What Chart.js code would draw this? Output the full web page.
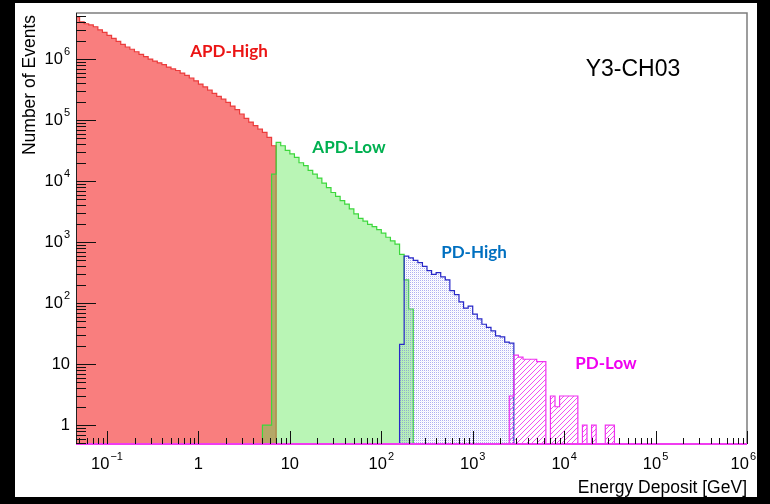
<!DOCTYPE html>
<html>
<head>
<meta charset="utf-8">
<script src="https://cdn.jsdelivr.net/npm/chart.js@4.4.0/dist/chart.umd.min.js"></script>
<style>
  html, body { margin: 0; padding: 0; background: #000; }
  #wrap { width: 770px; height: 504px; }
</style>
</head>
<body>
<div id="wrap"><canvas id="myChart" width="770" height="504"></canvas></div>
<script>
// log binning: 20 bins per decade, first edge at 10^-1.35
const binStartLog = -1.35;
const binsPerDecade = 20;

// APD-High, starts at bin 0
const apdHighStart = 0;
const apdHighCounts = [4.9e6, 4.07e6, 3.8e6, 3.63e6, 3.39e6, 3.02e6, 2.75e6, 2.45e6, 2.19e6, 1.95e6,
                       1.74e6, 1.58e6, 1.45e6, 1.32e6, 1.2e6, 1.1e6, 1.0e6, 9.3e5, 8.7e5, 8.1e5,
                       7.4e5, 6.9e5, 6.5e5, 5.9e5, 5.4e5, 4.9e5, 4.4e5, 3.9e5, 3.5e5, 3.1e5,
                       2.75e5, 2.45e5, 2.2e5, 1.95e5, 1.7e5, 1.48e5, 1.26e5, 1.07e5, 9.3e4, 8.1e4,
                       7.1e4, 6.3e4, 5.2e4, 3.8e4];
// APD-Low
const apdLowStart = 41;
const apdLowCounts = [1, 1, 1.3e4, 4.3e4, 3.8e4, 3.2e4, 2.8e4, 2.45e4, 2.0e4, 1.8e4, 1.5e4, 1.3e4,
                      1.12e4, 9300, 7800, 6500, 5600, 4800, 4200, 3500, 2900, 2450, 2200, 1950,
                      1800, 1600, 1400, 1200, 1050, 930, 630, 240, 80];
// PD-High
const pdHighStart = 71;
const pdHighCounts = [21, 590, 550, 500, 460, 400, 340, 295, 315, 270, 240, 160, 138, 105, 83,
                      89, 66, 55, 45, 40, 35, 29, 28, 23, 22];
// PD-Low
const pdLowStart = 95;
const pdLowCounts = [3, 14, 13, 12, 12, 12, 11, 11, 0, 3, 2, 3, 3, 3, 3, 0, 1, 0, 1, 0, 0, 1, 1];

const xTickDecades = [-1, 0, 1, 2, 3, 4, 5, 6];
const yTickDecades = [0, 1, 2, 3, 4, 5, 6];

const FLOOR = 0.1; // empty bins, below the y range

function binEdge(k) {
    return Math.pow(10, binStartLog + k / binsPerDecade);
}

function histPoints(start, counts) {
    var pts = [{x: binEdge(start), y: FLOOR}];
    for (var i = 0; i < counts.length; i++) {
        pts.push({x: binEdge(start + i), y: counts[i] > 0 ? counts[i] : FLOOR});
    }
    pts.push({x: binEdge(start + counts.length), y: FLOOR});
    return pts;
}

function makePattern(size, drawFn) {
    const c = document.createElement('canvas');
    c.width = size; c.height = size;
    const g = c.getContext('2d');
    drawFn(g, size);
    return c.getContext('2d').createPattern(c, 'repeat');
}

const bluePattern = makePattern(2, (g) => {
    g.fillStyle = 'rgba(110,110,230,0.55)';
    g.fillRect(0, 0, 1, 1);
    g.fillStyle = 'rgba(160,160,235,0.15)';
    g.fillRect(1, 1, 1, 1);
});
const pinkPattern = makePattern(5, (g, s) => {
    g.fillStyle = 'rgb(240,80,240)';
    for (var i = 0; i < s; i++) g.fillRect(i, s - 1 - i, 1, 1);
});

const FONT = '"Liberation Sans", Arial, sans-serif';

function drawPow(ctx, exp, x, y, align) {
    // "10" with superscript exponent, or plain text for 1 and 10
    ctx.textBaseline = 'middle';
    if (exp === 0 || exp === 1) {
        ctx.font = '16.5px ' + FONT;
        ctx.textAlign = align;
        ctx.fillText(exp === 0 ? '1' : '10', x, y);
        return;
    }
    const expText = exp < 0 ? '\u2212' + Math.abs(exp) : String(exp);
    ctx.font = '16.5px ' + FONT;
    const wBase = ctx.measureText('10').width;
    ctx.font = '11px ' + FONT;
    const wExp = ctx.measureText(expText).width;
    const total = wBase + wExp + 1;
    var left = align === 'center' ? x - total / 2 : x - total;
    left = Math.min(left, 756 - total);
    ctx.textAlign = 'left';
    ctx.font = '16.5px ' + FONT;
    ctx.fillText('10', left, y);
    ctx.font = '11px ' + FONT;
    ctx.fillText(expText, left + wBase + 1, y - 7);
}

const backgroundPlugin = {
    id: 'background',
    beforeDraw(chart) {
        const ctx = chart.ctx;
        ctx.save();
        ctx.fillStyle = '#000';
        ctx.fillRect(0, 0, chart.width, chart.height);
        ctx.fillStyle = '#fff';
        ctx.fillRect(15, 3, 742, 494);
        ctx.restore();
    }
};

const axesPlugin = {
    id: 'rootAxes',
    afterDatasetsDraw(chart) {
        const ctx = chart.ctx;
        const a = chart.chartArea;
        const xs = chart.scales.x, ys = chart.scales.y;
        ctx.save();
        // frame
        ctx.strokeStyle = 'rgb(125,125,125)';
        ctx.lineWidth = 1.5;
        ctx.beginPath();
        ctx.moveTo(a.left, a.top); ctx.lineTo(a.right, a.top); ctx.lineTo(a.right, a.bottom);
        ctx.stroke();
        ctx.strokeStyle = '#222';
        ctx.lineWidth = 1;
        ctx.beginPath();
        ctx.moveTo(a.left + 0.5, a.top); ctx.lineTo(a.left + 0.5, a.bottom);
        ctx.stroke();
        ctx.strokeStyle = 'rgb(240,60,240)';
        ctx.lineWidth = 2;
        ctx.beginPath();
        ctx.moveTo(a.left, a.bottom); ctx.lineTo(a.right, a.bottom);
        ctx.stroke();

        // ticks (inside, ROOT style)
        ctx.strokeStyle = '#111';
        ctx.lineWidth = 1;
        ctx.beginPath();
        for (var d = -2; d <= 6; d++) {
            for (var m = 1; m <= 9; m++) {
                var v = m * Math.pow(10, d);
                if (v >= xs.min && v <= xs.max) {
                    var px = Math.round(xs.getPixelForValue(v)) + 0.5;
                    ctx.moveTo(px, a.bottom); ctx.lineTo(px, a.bottom - (m === 1 ? 13 : 6));
                }
                if (v >= ys.min && v <= ys.max) {
                    var py = Math.round(ys.getPixelForValue(v)) + 0.5;
                    ctx.moveTo(a.left, py); ctx.lineTo(a.left + (m === 1 ? 20 : 10), py);
                }
            }
        }
        ctx.stroke();

        // tick labels
        ctx.fillStyle = '#000';
        xTickDecades.forEach((e) => drawPow(ctx, e, xs.getPixelForValue(Math.pow(10, e)), a.bottom + 20, 'center'));
        yTickDecades.forEach((e) => drawPow(ctx, e, a.left - 6, ys.getPixelForValue(Math.pow(10, e)), 'right'));

        // axis titles
        ctx.font = '17.5px ' + FONT;
        ctx.textAlign = 'right';
        ctx.textBaseline = 'middle';
        ctx.fillText('Energy Deposit [GeV]', a.right, 488);
        ctx.save();
        ctx.translate(30, a.top + 2);
        ctx.rotate(-Math.PI / 2);
        ctx.fillText('Number of Events', 0, 0);
        ctx.restore();

        // channel name
        ctx.font = '23px ' + FONT;
        ctx.textAlign = 'center';
        ctx.fillText('Y3-CH03', 633, 70);

        // histogram names
        ctx.font = 'bold 17px Lato, "Open Sans", sans-serif';
        ctx.fillStyle = 'rgb(235,20,20)';
        ctx.fillText('APD-High', 229, 52);
        ctx.fillStyle = 'rgb(0,176,80)';
        ctx.fillText('APD-Low', 349, 148);
        ctx.fillStyle = 'rgb(0,112,192)';
        ctx.fillText('PD-High', 474, 253);
        ctx.fillStyle = 'rgb(240,0,240)';
        ctx.fillText('PD-Low', 606, 364);
        ctx.restore();
    }
};

const ctxChart = document.getElementById('myChart').getContext('2d');
new Chart(ctxChart, {
    type: 'line',
    data: {
        datasets: [{
            label: 'APD-High',
            data: histPoints(apdHighStart, apdHighCounts),
            borderColor: 'rgb(235,60,60)',
            backgroundColor: 'rgb(249,126,126)',
            order: 4
        }, {
            label: 'APD-Low',
            data: histPoints(apdLowStart, apdLowCounts),
            borderColor: 'rgb(60,215,60)',
            backgroundColor: 'rgba(80,230,70,0.4)',
            order: 3
        }, {
            label: 'PD-High',
            data: histPoints(pdHighStart, pdHighCounts),
            borderColor: 'rgb(40,40,200)',
            backgroundColor: bluePattern,
            order: 2
        }, {
            label: 'PD-Low',
            data: histPoints(pdLowStart, pdLowCounts),
            borderColor: 'rgb(240,50,240)',
            backgroundColor: pinkPattern,
            order: 1
        }]
    },
    options: {
        responsive: false,
        animation: false,
        layout: { padding: { left: 76, top: 13, right: 23, bottom: 60 } },
        elements: {
            line: { stepped: true, borderWidth: 1.2, fill: 'start', tension: 0 },
            point: { radius: 0 }
        },
        scales: {
            x: { type: 'logarithmic', min: 0.0458, max: 1e6, display: false },
            y: { type: 'logarithmic', min: 0.49, max: 5.7e6, display: false }
        },
        plugins: { legend: { display: false }, tooltip: { enabled: false } }
    },
    plugins: [backgroundPlugin, axesPlugin]
});
</script>
</body>
</html>
